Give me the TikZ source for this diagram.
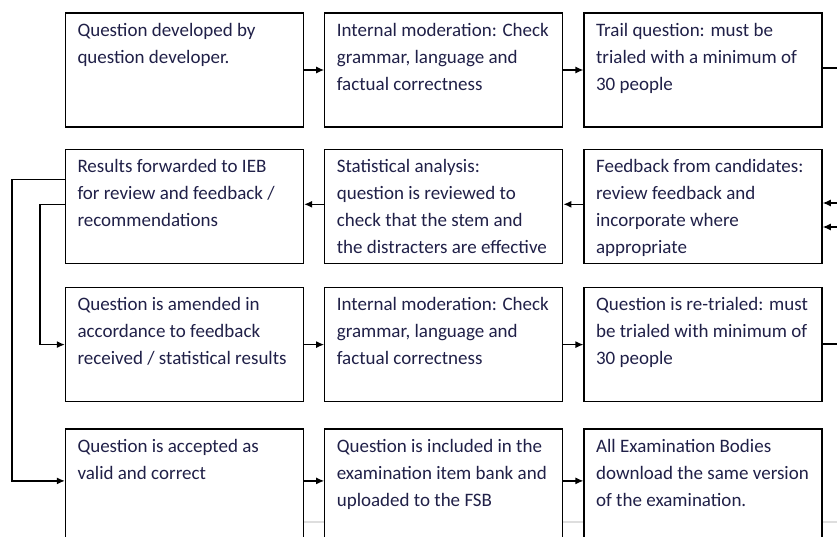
\documentclass[tikz,border=0pt]{standalone}
\usepackage{fontspec}
\setmainfont{Carlito}
\usetikzlibrary{positioning, arrows.meta}

\definecolor{textnavy}{RGB}{32,32,72}
\definecolor{pagerule}{RGB}{222,222,222}

\newcommand{\stagetext}[1]{\parbox[c][100pt][t]{214pt}{\vspace*{3pt}\raggedright\fontsize{19}{27}\selectfont\color{textnavy}#1}}

\tikzset{
    stage/.style={draw, fill=white, line width=1.3pt, inner xsep=12pt, inner ysep=7pt},
    flow/.style={line width=1.3pt, -{Latex[length=8pt,width=7pt]}},
    link/.style={line width=1.3pt}
}

\begin{document}
\begin{tikzpicture}[x=1pt, y=-1pt]
    \useasboundingbox (0,0) rectangle (837,537);
    \clip (0,0) rectangle (837,537);

    % page rule behind the boxes
    \draw[pagerule, line width=1.5pt] (290,522) -- (837,522);

    \node[stage] (dev) at (184.5,70) {\stagetext{Question developed by\\ question developer.}};
    \node[stage, right=20pt of dev] (mod1) {\stagetext{Internal moderation: Check\\ grammar, language and\\ factual correctness}};
    \node[stage, right=20pt of mod1] (trial) {\stagetext{Trail question: must be\\ trialed with a minimum of\\ 30 people}};

    \node[stage, below=21pt of trial] (feedback) {\stagetext{Feedback from candidates:\\ review feedback and\\ incorporate where\\ appropriate}};
    \node[stage, below=21pt of mod1] (stats) {\stagetext{Statistical analysis:\\ question is reviewed to\\ check that the stem and\\ the distracters are effective}};
    \node[stage, below=21pt of dev] (results) {\stagetext{Results forwarded to IEB\\ for review and feedback /\\ recommendations}};

    \node[stage, below=23pt of results] (amended) {\stagetext{Question is amended in\\ accordance to feedback\\ received / statistical results}};
    \node[stage, below=23pt of stats] (mod2) {\stagetext{Internal moderation: Check\\ grammar, language and\\ factual correctness}};
    \node[stage, below=23pt of feedback] (retrial) {\stagetext{Question is re-trialed: must\\ be trialed with minimum of\\ 30 people}};

    \node[stage, below=26pt of amended] (accepted) {\stagetext{Question is accepted as\\ valid and correct}};
    \node[stage, below=26pt of mod2] (bank) {\stagetext{Question is included in the\\ examination item bank and\\ uploaded to the FSB}};
    \node[stage, below=26pt of retrial] (download) {\stagetext{All Examination Bodies\\ download the same version\\ of the examination.}};

    % free ends at the right edge of the page
    \coordinate (outA) at (837,68);
    \coordinate (inA) at (837,203);
    \coordinate (inB) at (837,227);
    \coordinate (outB) at (837,344);

    \draw[flow] (dev) -- (mod1);
    \draw[flow] (mod1) -- (trial);
    \draw[link] (trial.east |- outA) -- (outA);

    \draw[flow] (inA) -- (feedback.east |- inA);
    \draw[flow] (inB) -- (feedback.east |- inB);
    \draw[flow] ([yshift=2pt]feedback.west) -- ([yshift=2pt]stats.east);
    \draw[flow] ([yshift=2pt]stats.west) -- ([yshift=2pt]results.east);

    \draw[flow] ([yshift=27pt]results.west) -- ++(-53pt,0) |- ([yshift=5pt]accepted.west);
    \draw[flow] ([yshift=2pt]results.west) -- ++(-25pt,0) |- (amended);

    \draw[flow] (amended) -- (mod2);
    \draw[flow] (mod2) -- (retrial);
    \draw[link] (retrial.east |- outB) -- (outB);

    \draw[flow] ([yshift=5pt]accepted.east) -- ([yshift=5pt]bank.west);
    \draw[flow] ([yshift=5pt]bank.east) -- ([yshift=5pt]download.west);
\end{tikzpicture}
\end{document}
